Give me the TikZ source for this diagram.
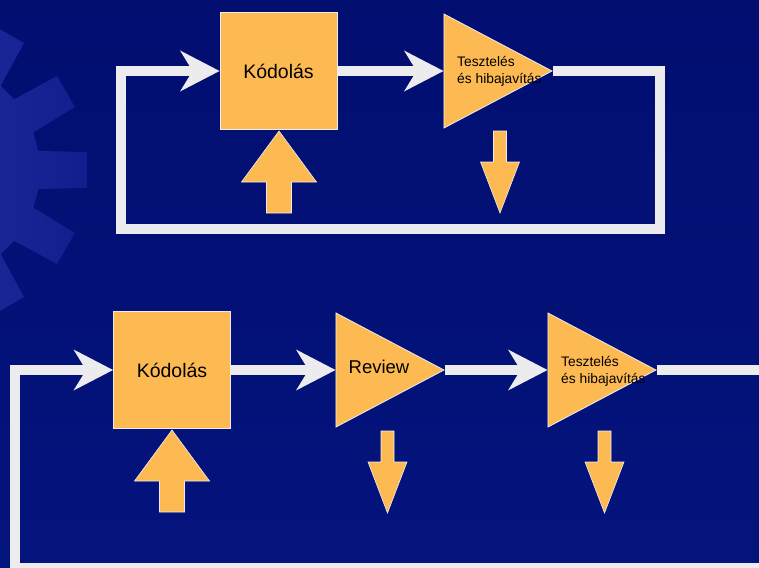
\documentclass[tikz,border=0pt]{standalone}
\usepackage{fontspec}
\setmainfont{Liberation Sans}
\usetikzlibrary{arrows.meta, shapes.geometric, positioning}
\definecolor{bgblue}{RGB}{4, 20, 125}
\definecolor{bgdark}{RGB}{2, 14, 112}
\definecolor{gearlight}{RGB}{44, 54, 168}
\definecolor{gearmid}{RGB}{18, 30, 142}
\definecolor{boxorange}{RGB}{253, 186, 82}
\definecolor{wirewhite}{RGB}{236, 236, 238}

\begin{document}
\begin{tikzpicture}[
    x=1pt, y=-1pt,
    stage/.style={draw=wirewhite, line width=0.8pt, fill=boxorange, minimum size=117pt, inner sep=0pt, font=\fontsize{19.5}{22}\selectfont},
    check/.style={isosceles triangle, isosceles triangle stretches, draw=wirewhite, line width=0.8pt, fill=boxorange, minimum width=114pt, minimum height=108pt, inner sep=0pt},
    tag/.style={anchor=west, align=left, inner sep=0pt, font=\fontsize{13.8}{17}\selectfont},
    wire/.style={draw=wirewhite, line width=10pt},
    flow/.style={wire, -{Stealth[length=39pt, width=40pt, inset=12pt]}},
    gear/.style={left color=gearlight, right color=gearmid},
    inarrow/.pic={\filldraw[fill=boxorange, draw=wirewhite, line width=0.6pt] (0,0) -- (37.5,51) -- (12.5,51) -- (12.5,82) -- (-12.5,82) -- (-12.5,51) -- (-37.5,51) -- cycle;},
    outarrow/.pic={\filldraw[fill=boxorange, draw=wirewhite, line width=0.6pt] (0,0) -- (19.5,-51) -- (6.5,-51) -- (6.5,-82) -- (-6.5,-82) -- (-6.5,-51) -- (-19.5,-51) -- cycle;},
]
    \useasboundingbox (0,0) rectangle (759,567);
    \clip (0,0) rectangle (759,567);
    \fill[top color=bgdark, bottom color=bgblue] (0,0) rectangle (759,567);

    % Gear in the background
    \begin{scope}[shift={(-70,170)}]
        \path[gear] (-10:110) \foreach \a in {0,30,...,330}{ -- (\a-10:110) -- (\a-6.5:158) -- (\a+6.5:158) -- (\a+10:110) -- (\a+20:110)} -- cycle;
    \end{scope}

    % Top cycle
    \node[stage] (kod1) at (278.5,71) {Kódolás};
    \node[check, anchor=apex] (test1) at (553,71) {};
    \node[tag] (test1txt) at (457,71.5) {Tesztelés\\és hibajavítás};
    \coordinate (loop1) at (660,229);
    \coordinate (back1) at (121,229);

    \draw[flow] (kod1.east) -- (test1.lower side);
    \draw[flow] (test1.apex) -| (loop1) -- (back1) |- (kod1.west);

    \pic at (279,131) {inarrow};
    \pic at (500,213) {outarrow};

    % Bottom cycle
    \node[stage] (kod2) at (172,370) {Kódolás};
    \node[check, anchor=apex] (review) at (445,370) {};
    \node[font=\fontsize{18.5}{22}\selectfont] (reviewtxt) at (379,367) {Review};
    \node[check, anchor=apex] (test2) at (657,370) {};
    \node[tag] (test2txt) at (561,371) {Tesztelés\\és hibajavítás};
    \coordinate (exit2) at (775,370);
    \coordinate (ret2) at (15,568);

    \draw[flow] (kod2.east) -- (review.lower side);
    \draw[flow] (review.apex) -- (test2.lower side);
    \draw[flow] (test2.apex) -- (exit2) |- (ret2) |- (kod2.west);

    \pic at (172,430) {inarrow};
    \pic at (387.5,513) {outarrow};
    \pic at (604.5,513) {outarrow};

\end{tikzpicture}
\end{document}
